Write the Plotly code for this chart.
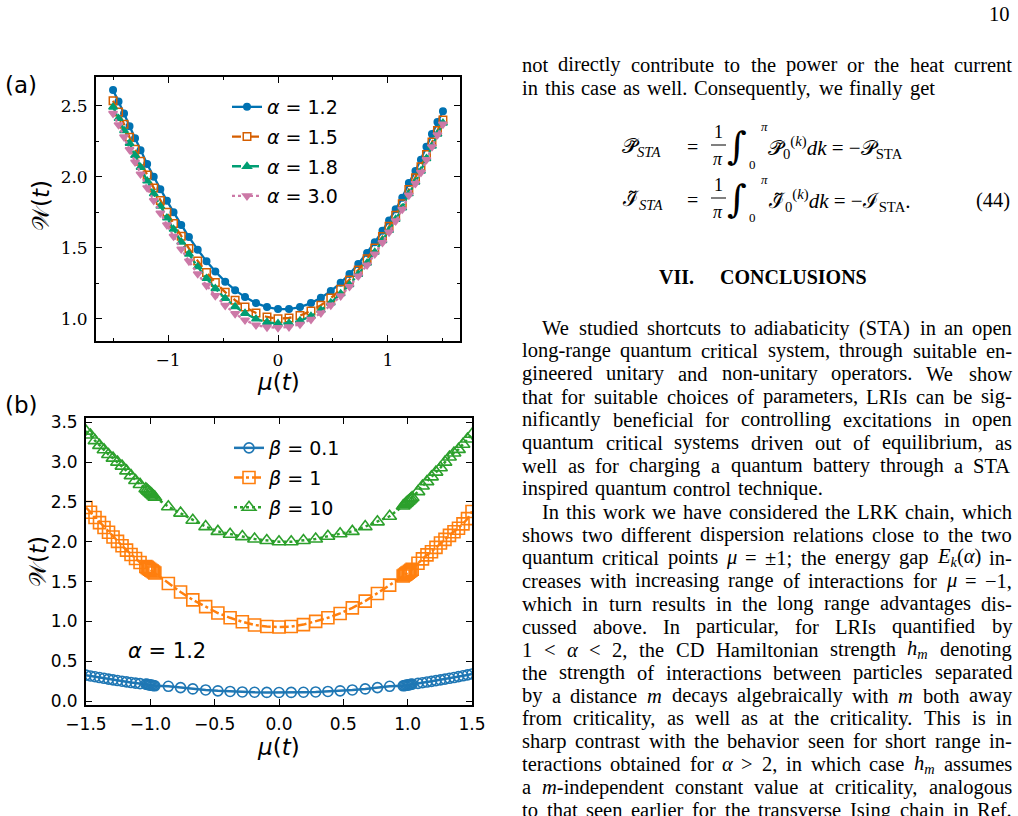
import re
import plotly.graph_objects as go

# ---------------- data: panel (a) ----------------
mu_a = [-1.5, -1.45, -1.4, -1.35, -1.3, -1.25, -1.19, -1.13, -1.07, -1.01, -0.95, -0.88, -0.81,
        -0.73, -0.65, -0.57, -0.48, -0.39, -0.3, -0.2, -0.1, 0.0, 0.1, 0.2, 0.3, 0.39, 0.48, 0.57,
        0.65, 0.73, 0.81, 0.88, 0.95, 1.01, 1.07, 1.13, 1.19, 1.25, 1.3, 1.35, 1.4, 1.45, 1.5]
W_alpha12 = [2.61, 2.53, 2.445, 2.355, 2.27, 2.186, 2.09, 2.0, 1.912, 1.83, 1.75, 1.66, 1.575,
             1.486, 1.404, 1.332, 1.261, 1.201, 1.152, 1.110, 1.082, 1.068, 1.068, 1.082, 1.110,
             1.147, 1.195, 1.253, 1.315, 1.385, 1.463, 1.538, 1.619, 1.692, 1.770, 1.852, 1.955,
             2.04, 2.12, 2.21, 2.30, 2.385, 2.46]
W_alpha15 = [2.535, 2.455, 2.37, 2.278, 2.193, 2.108, 2.012, 1.921, 1.833, 1.75, 1.67, 1.58, 1.495,
             1.407, 1.326, 1.255, 1.187, 1.13, 1.082, 1.04, 1.012, 1.0, 1.005, 1.022, 1.055, 1.095,
             1.145, 1.208, 1.272, 1.343, 1.422, 1.497, 1.578, 1.651, 1.728, 1.81, 1.91, 1.993,
             2.07, 2.157, 2.245, 2.325, 2.40]
W_alpha18 = [2.49, 2.41, 2.325, 2.235, 2.15, 2.066, 1.97, 1.88, 1.792, 1.71, 1.63, 1.54, 1.455,
             1.366, 1.284, 1.212, 1.143, 1.085, 1.038, 0.998, 0.975, 0.966, 0.968, 0.985, 1.018,
             1.06, 1.112, 1.176, 1.24, 1.313, 1.392, 1.468, 1.55, 1.622, 1.70, 1.78, 1.88, 1.962,
             2.04, 2.128, 2.215, 2.30, 2.378]
W_alpha30 = [2.445, 2.365, 2.28, 2.19, 2.103, 2.018, 1.922, 1.832, 1.744, 1.66, 1.58, 1.49, 1.405,
             1.316, 1.234, 1.162, 1.093, 1.035, 0.99, 0.955, 0.94, 0.937, 0.942, 0.96, 0.995, 1.04,
             1.095, 1.16, 1.226, 1.300, 1.378, 1.455, 1.536, 1.609, 1.688, 1.77, 1.87, 1.952,
             2.03, 2.12, 2.21, 2.295, 2.37]
labels_a = ["<i>α</i> = 1.2", "<i>α</i> = 1.5", "<i>α</i> = 1.8", "<i>α</i> = 3.0"]

# ---------------- data: panel (b) ----------------
mu_b = [-1.5, -1.465, -1.43, -1.395, -1.36, -1.325, -1.29, -1.255, -1.22, -1.185, -1.15, -1.115, -1.08,
        -1.035, -1.025, -1.015, -1.005, -0.995, -0.985, -0.975, -0.965,
        -0.86, -0.765, -0.67, -0.57, -0.475, -0.38, -0.285, -0.19, -0.095, 0.0,
        0.095, 0.19, 0.285, 0.38, 0.475, 0.57, 0.67, 0.765, 0.86,
        0.965, 0.975, 0.985, 0.995, 1.005, 1.015, 1.025, 1.035,
        1.08, 1.115, 1.15, 1.185, 1.22, 1.255, 1.29, 1.325, 1.36, 1.395, 1.43, 1.465, 1.5]
W_beta01 = [0.325, 0.315, 0.305, 0.295, 0.285, 0.275, 0.266, 0.257, 0.248, 0.24, 0.232, 0.225, 0.218,
            0.212, 0.209, 0.206, 0.203, 0.2, 0.197, 0.194, 0.191,
            0.185, 0.168, 0.152, 0.139, 0.128, 0.12, 0.114, 0.11, 0.108, 0.107,
            0.108, 0.11, 0.114, 0.12, 0.128, 0.139, 0.152, 0.168, 0.185,
            0.191, 0.194, 0.197, 0.2, 0.203, 0.206, 0.209, 0.212,
            0.222, 0.23, 0.238, 0.247, 0.256, 0.265, 0.275, 0.285, 0.295, 0.306, 0.317, 0.328, 0.34]
W_beta1 = [2.43, 2.37, 2.305, 2.24, 2.18, 2.12, 2.06, 2.005, 1.95, 1.895, 1.84, 1.79, 1.74,
           1.69, 1.678, 1.666, 1.655, 1.643, 1.632, 1.62, 1.608,
           1.475, 1.37, 1.27, 1.185, 1.105, 1.045, 0.995, 0.955, 0.935, 0.93,
           0.935, 0.96, 1.0, 1.045, 1.10, 1.17, 1.255, 1.35, 1.455,
           1.57, 1.582, 1.594, 1.606, 1.618, 1.63, 1.642, 1.654,
           1.73, 1.785, 1.835, 1.875, 1.93, 1.985, 2.03, 2.08, 2.125, 2.17, 2.225, 2.29, 2.38]
W_beta10 = [3.39, 3.34, 3.27, 3.21, 3.155, 3.095, 3.05, 3.0, 2.95, 2.89, 2.83, 2.77, 2.72,
            2.665, 2.65, 2.635, 2.62, 2.605, 2.59, 2.575, 2.56,
            2.44, 2.36, 2.27, 2.19, 2.13, 2.095, 2.065, 2.035, 2.015, 2.0,
            2.0, 2.015, 2.035, 2.07, 2.10, 2.13, 2.19, 2.25, 2.32,
            2.45, 2.465, 2.48, 2.495, 2.51, 2.525, 2.54, 2.555,
            2.63, 2.70, 2.755, 2.815, 2.875, 2.93, 3.0, 3.065, 3.115, 3.16, 3.225, 3.29, 3.35]
labels_b = ["<i>β</i> = 0.1", "<i>β</i> = 1", "<i>β</i> = 10"]

# ---------------- page text ----------------
top_lines = [("not directly contribute to the power or the heat current", True),
             ("in this case as well. Consequently, we finally get", False)]
para1 = ["We studied shortcuts to adiabaticity (STA) in an open",
         "long-range quantum critical system, through suitable en-",
         "gineered unitary and non-unitary operators.  We show",
         "that for suitable choices of parameters, LRIs can be sig-",
         "nificantly beneficial for controlling excitations in open",
         "quantum critical systems driven out of equilibrium, as",
         "well as for charging a quantum battery through a STA",
         "inspired quantum control technique."]
para2 = ["In this work we have considered the LRK chain, which",
         "shows two different dispersion relations close to the two",
         "quantum critical points <i>μ</i> = ±1; the energy gap <i>E</i><sub><i>k</i></sub>(<i>α</i>) in-",
         "creases with increasing range of interactions for <i>μ</i> = −1,",
         "which in turn results in the long range advantages dis-",
         "cussed above.  In particular, for LRIs quantified by",
         "1 &lt; <i>α</i> &lt; 2, the CD Hamiltonian strength <i>h</i><sub><i>m</i></sub> denoting",
         "the strength of interactions between particles separated",
         "by a distance <i>m</i> decays algebraically with <i>m</i> both away",
         "from criticality, as well as at the criticality.  This is in",
         "sharp contrast with the behavior seen for short range in-",
         "teractions obtained for <i>α</i> &gt; 2, in which case <i>h</i><sub><i>m</i></sub> assumes",
         "a <i>m</i>-independent constant value at criticality, analogous",
         "to that seen earlier for the transverse Ising chain in Ref."]

W, H = 1018, 816


def px(x):
    return x / W


def py(y):
    return 1 - y / H


fig = go.Figure()

# panel (a) traces
ser_a = [(W_alpha12, '#0072B2', 'solid', 'circle', 6.5),
         (W_alpha15, '#D55E00', 'dash', 'square-open', 7.5),
         (W_alpha18, '#009E73', 'dashdot', 'triangle-up', 7.5),
         (W_alpha30, '#CC79A7', 'dot', 'triangle-down', 7.5)]
for i, (yv, c, dash, sym, sz) in enumerate(ser_a):
    fig.add_trace(go.Scatter(
        x=mu_a, y=yv, name=labels_a[i], mode='lines+markers',
        line=dict(color=c, width=2.3, dash=dash),
        marker=dict(symbol=sym, size=sz, color=c, line=dict(color=c, width=1.5)),
        xaxis='x', yaxis='y', legend='legend', legendgroup='a%d' % i))

# panel (b) traces
ser_b = [(W_beta01, '#1f77b4', 'solid', 'circle-open', 10),
         (W_beta1, '#ff7f0e', 'dashdot', 'square-open', 12),
         (W_beta10, '#2ca02c', 'dot', 'triangle-up-open', 12)]
for i, (yv, c, dash, sym, sz) in enumerate(ser_b):
    fig.add_trace(go.Scatter(
        x=mu_b, y=yv, name=labels_b[i], mode='lines+markers',
        line=dict(color=c, width=2.5, dash=dash),
        marker=dict(symbol=sym, size=sz, color=c, line=dict(color=c, width=1.6)),
        xaxis='x2', yaxis='y2', legend='legend2', legendgroup='b%d' % i))

ax = dict(showline=True, linecolor='black', linewidth=1.8, mirror='allticks',
          ticks='inside', ticklen=6, tickwidth=1.2, tickcolor='black',
          showgrid=False, zeroline=False, ticklabelstandoff=3, automargin=False)
serif_tick = dict(family='DejaVu Serif', size=17, color='black')
sans_tick = dict(family='DejaVu Sans', size=17, color='black')

fig.update_layout(
    width=W, height=H, autosize=False,
    margin=dict(l=0, r=0, t=0, b=0, pad=0, autoexpand=False),
    paper_bgcolor='white', plot_bgcolor='white',
    xaxis=dict(ax, domain=[px(96), px(460)], range=[-1.655, 1.655], tickvals=[-1, 0, 1],
               minor=dict(tickvals=[-1.5, -0.5, 0.5, 1.5], ticks='inside', ticklen=3.5,
                          tickcolor='black'),
               tickfont=serif_tick, anchor='y'),
    yaxis=dict(ax, domain=[py(341), py(77)], range=[0.843, 2.702], tick0=0, dtick=0.5,
               tickformat='.1f',
               minor=dict(tick0=0.25, dtick=0.5, ticks='inside', ticklen=3.5, tickcolor='black'),
               tickfont=serif_tick, anchor='x'),
    xaxis2=dict(ax, domain=[px(86), px(472)], range=[-1.5, 1.5], tick0=0, dtick=0.5,
                tickformat='.1f', tickfont=sans_tick, anchor='y2'),
    yaxis2=dict(ax, domain=[py(705), py(417.7)], range=[-0.05, 3.558], tick0=0, dtick=0.5,
                tickformat='.1f', tickfont=sans_tick, anchor='x2'),
    legend=dict(x=px(227), y=py(88), xanchor='left', yanchor='top',
                font=dict(family='DejaVu Sans', size=19, color='black'),
                bgcolor='rgba(0,0,0,0)', traceorder='grouped', tracegroupgap=2),
    legend2=dict(x=px(229), y=py(429), xanchor='left', yanchor='top',
                 font=dict(family='DejaVu Sans', size=19, color='black'),
                 bgcolor='rgba(0,0,0,0)', traceorder='grouped', tracegroupgap=2),
)


def ann(x, y, text, size=19, family='Liberation Serif', xanchor='left', yanchor='middle',
        angle=0, color='black'):
    fig.add_annotation(x=px(x), y=py(y), xref='paper', yref='paper', text=text,
                       showarrow=False, xanchor=xanchor, yanchor=yanchor, textangle=angle,
                       borderpad=0, font=dict(family=family, size=size, color=color))


# panel labels and axis titles
sans = 'DejaVu Sans'
ann(4, 85, '(a)', 23, sans)
ann(4, 405, '(b)', 23, sans)
ann(278, 382, '<i>μ</i>(<i>t</i>)', 23, sans, xanchor='center')
ann(278, 747, '<i>μ</i>(<i>t</i>)', 23, sans, xanchor='center')
ann(41, 206, '𝒲(<i>t</i>)', 23, sans, xanchor='center', angle=-90)
ann(38, 562, '𝒲(<i>t</i>)', 23, sans, xanchor='center', angle=-90)
ann(167, 651, '<i>α</i> = 1.2', 21, sans, xanchor='center')

# ---------------- justified text column ----------------
TIMES = {' ': 250, '!': 333, '(': 333, ')': 333, ',': 250, '-': 333, '.': 250, ':': 278,
         ';': 278, '<': 564, '=': 564, '>': 564, '±': 564, '−': 564, 'μ': 500, 'α': 500,
         'A': 722, 'B': 667, 'C': 667, 'D': 722, 'E': 611, 'F': 556, 'G': 722, 'H': 722,
         'I': 333, 'J': 389, 'K': 722, 'L': 611, 'M': 889, 'N': 722, 'O': 722, 'P': 556,
         'Q': 722, 'R': 667, 'S': 556, 'T': 611, 'U': 722, 'V': 722, 'W': 944, 'X': 722,
         'Y': 722, 'Z': 611, 'a': 444, 'b': 500, 'c': 444, 'd': 500, 'e': 444, 'f': 333,
         'g': 500, 'h': 500, 'i': 278, 'j': 278, 'k': 500, 'l': 278, 'm': 778, 'n': 500,
         'o': 500, 'p': 500, 'q': 500, 'r': 333, 's': 389, 't': 278, 'u': 500, 'v': 500,
         'w': 722, 'x': 500, 'y': 500, 'z': 444}


def text_width(s, fs):
    w = 0.0
    for part in re.split(r'(<sub>.*?</sub>|<sup>.*?</sup>)', s):
        scale = 0.7 if part.startswith('<su') else 1.0
        t = re.sub(r'<[^>]+>', '', part).replace('&lt;', '<').replace('&gt;', '>')
        w += sum(TIMES.get(ch, 500) for ch in t) * scale
    return w * fs / 1000.0


FS = 20.5


def place_line(text, y, x0, x1, justify, fs=FS):
    words = text.split()
    widths = [text_width(wd, fs) for wd in words]
    if justify and len(words) > 1:
        gap = (x1 - x0 - sum(widths)) / (len(words) - 1)
    else:
        gap = 0.33 * fs
    x = x0
    for wd, wdt in zip(words, widths):
        ann(x, y, wd, fs)
        x += wdt + gap


LEFT, RIGHT = 521, 1011
ann(1011, 14, '10', FS, xanchor='right')
place_line(top_lines[0][0], 65, LEFT, RIGHT, top_lines[0][1])
place_line(top_lines[1][0], 88, LEFT, RIGHT, top_lines[1][1])

LH = 22.97
for k, line in enumerate(para1):
    x0 = 541 if k == 0 else LEFT
    place_line(line, 328 + LH * k, x0, RIGHT, k != len(para1) - 1)
for k, line in enumerate(para2):
    x0 = 541 if k == 0 else LEFT
    place_line(line, 328 + LH * (k + len(para1)), x0, RIGHT, True)

# section heading
ann(695, 277, '<b>VII.</b>', 20, xanchor='right')
ann(719, 277, '<b>CONCLUSIONS</b>', 20)

# equation (44)
for yc, sym, end in [(147, '𝒫', ''), (200, 'ℐ', '.')]:
    ann(621, yc, sym + '̃<sub><i>STA</i></sub>', 21)
    ann(692, yc, '=', 20, xanchor='center')
    ann(718, yc - 15, '1', 18, xanchor='center')
    ann(718, yc + 12, '<i>π</i>', 18, xanchor='center')
    fig.add_shape(type='line', xref='paper', yref='paper', x0=px(711), x1=px(726),
                  y0=py(yc - 2), y1=py(yc - 2), line=dict(color='black', width=1))
    ann(737, yc - 1, '∫', 38, 'DejaVu Serif', xanchor='center')
    ann(764, yc - 21, '<i>π</i>', 13, xanchor='center')
    ann(752, yc + 18, '0', 13, xanchor='center')
    ann(767, yc, sym + '̃<sub>0</sub><sup>(<i>k</i>)</sup><i>dk</i> = −' + sym +
        '<sub>STA</sub>' + end, 21)
ann(1011, 200, '(44)', FS, xanchor='right')

fig.write_html('out.html')
